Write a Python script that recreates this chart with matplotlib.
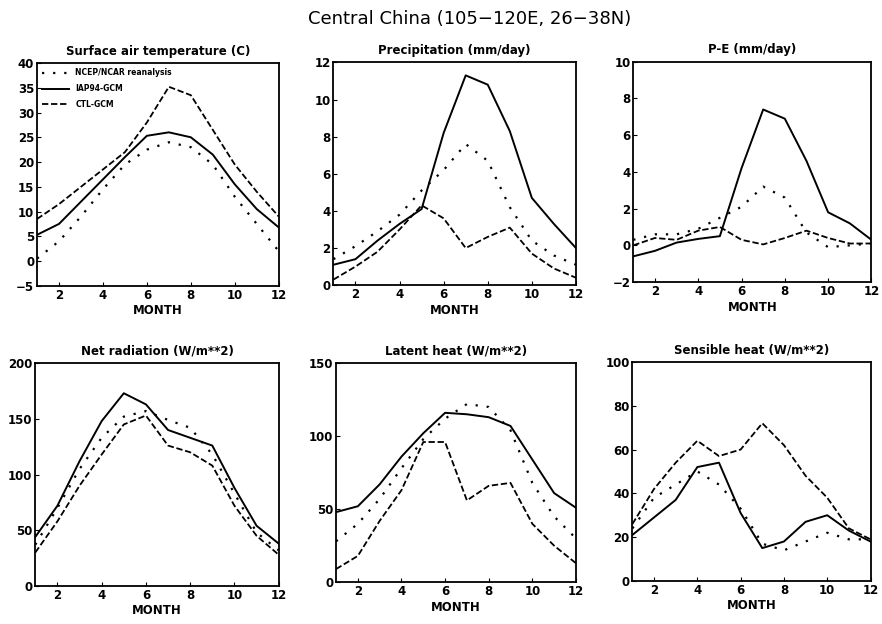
import matplotlib.pyplot as plt

# months
months = [1, 2, 3, 4, 5, 6, 7, 8, 9, 10, 11, 12]

# Surface air temperature (C)
tas_ncep = [0.5, 4, 9, 14.5, 19.5, 22.5, 24, 23, 19.5, 13, 7.5, 2]
tas_iap = [5.3, 7.5, 12, 16.5, 21, 25.3, 26, 25, 21.5, 15.5, 10.5, 6.8]
tas_ctl = [8.5, 11.5, 15, 18.5, 22, 28, 35.2, 33.5, 26.5, 19.5, 14, 9]

# Precipitation (mm/day)
pr_ncep = [1.4, 2.1, 2.9, 3.8, 5.1, 6.2, 7.6, 6.7, 4.2, 2.4, 1.6, 1.1]
pr_iap = [1.1, 1.4, 2.4, 3.3, 4.1, 8.2, 11.3, 10.8, 8.3, 4.7, 3.3, 2.0]
pr_ctl = [0.3, 1.0, 1.8, 3.0, 4.3, 3.6, 2.0, 2.6, 3.1, 1.7, 0.9, 0.4]

# P-E (mm/day)
pe_ncep = [0.3, 0.6, 0.6, 0.9, 1.5, 2.1, 3.2, 2.6, 0.7, -0.1, 0.0, 0.1]
pe_iap = [-0.6, -0.3, 0.15, 0.35, 0.5, 4.2, 7.4, 6.9, 4.6, 1.8, 1.2, 0.3]
pe_ctl = [0.0, 0.4, 0.3, 0.8, 1.0, 0.3, 0.05, 0.4, 0.8, 0.4, 0.1, 0.1]

# Net radiation (W/m**2)
rn_ncep = [37, 70, 105, 133, 152, 157, 149, 142, 118, 83, 48, 32]
rn_iap = [44, 72, 112, 148, 173, 163, 140, 133, 126, 88, 54, 38]
rn_ctl = [30, 58, 90, 118, 145, 153, 126, 120, 108, 72, 45, 28]

# Latent heat (W/m**2)
lh_ncep = [28, 40, 57, 78, 98, 112, 122, 120, 104, 68, 45, 30]
lh_iap = [48, 52, 67, 86, 102, 116, 115, 113, 107, 84, 61, 51]
lh_ctl = [9, 18, 42, 63, 96, 96, 56, 66, 68, 40, 25, 13]

# Sensible heat (W/m**2)
sh_ncep = [24, 38, 44, 50, 44, 33, 17, 14, 18, 22, 19, 19]
sh_iap = [21, 29, 37, 52, 54, 31, 15, 18, 27, 30, 23, 18]
sh_ctl = [26, 42, 54, 64, 57, 60, 72, 62, 48, 38, 24, 19]

titles = ["Surface air temperature (C)", "Precipitation (mm/day)", "P-E (mm/day)",
          "Net radiation (W/m**2)", "Latent heat (W/m**2)", "Sensible heat (W/m**2)"]
series = [(tas_ncep, tas_iap, tas_ctl), (pr_ncep, pr_iap, pr_ctl), (pe_ncep, pe_iap, pe_ctl),
          (rn_ncep, rn_iap, rn_ctl), (lh_ncep, lh_iap, lh_ctl), (sh_ncep, sh_iap, sh_ctl)]
ylims = [(-5, 40), (0, 12), (-2, 10), (0, 200), (0, 150), (0, 100)]
ysteps = [5, 2, 2, 50, 50, 20]
labels = ["NCEP/NCAR reanalysis", "IAP94-GCM", "CTL-GCM"]

# axes boxes [left, bottom, width, height] in figure fraction
boxes = [[0.042, 0.542, 0.274, 0.357], [0.378, 0.543, 0.275, 0.357], [0.718, 0.548, 0.270, 0.353],
         [0.040, 0.061, 0.276, 0.357], [0.381, 0.067, 0.272, 0.351], [0.717, 0.069, 0.270, 0.351]]

fig = plt.figure(figsize=(8.82, 6.24), dpi=100)
fig.text(0.533, 0.970, "Central China (105\u2212120E, 26\u221238N)", ha="center", va="center", fontsize=13)

for i in range(6):
    ax = fig.add_axes(boxes[i])
    ncep, iap, ctl = series[i]
    ax.plot(months, ncep, color="k", lw=1.6, linestyle=(0, (1, 4)), label=labels[0])
    ax.plot(months, iap, color="k", lw=1.4, linestyle="-", label=labels[1])
    ax.plot(months, ctl, color="k", lw=1.3, linestyle=(0, (3.5, 1.5)), label=labels[2])
    lo, hi = ylims[i]
    ax.set_xlim(1, 12)
    ax.set_ylim(lo, hi)
    ax.set_xticks([2, 4, 6, 8, 10, 12])
    ax.set_yticks(list(range(lo, hi + 1, ysteps[i])))
    ax.tick_params(direction="in", length=3, labelsize=8.5, pad=2)
    for t in ax.get_xticklabels() + ax.get_yticklabels():
        t.set_fontweight("bold")
    for s in ax.spines.values():
        s.set_linewidth(1.3)
    ax.set_title(titles[i], fontsize=8.5, fontweight="bold", pad=6)
    ax.set_xlabel("MONTH", fontsize=8.5, fontweight="bold", labelpad=2)
    if i == 0:
        ax.legend(loc="upper left", frameon=False, handlelength=3.5,
                  borderaxespad=0.3, labelspacing=0.9, prop={"weight": "bold", "size": 5.5})

fig.savefig("out.png", dpi=100)
